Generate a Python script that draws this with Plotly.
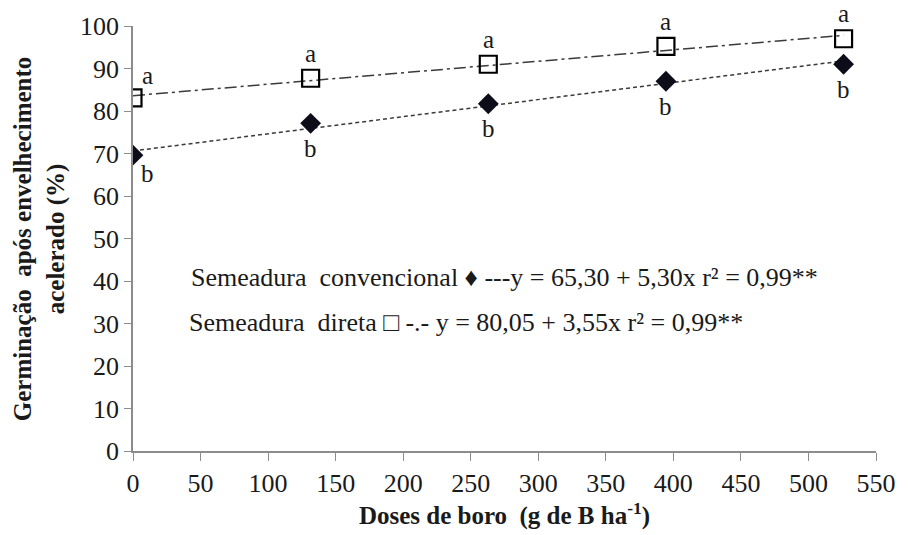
import plotly.graph_objects as go

doses = [0, 131.5, 263, 394.5, 526]
convencional = [69.6, 77.1, 81.7, 87.0, 91.0]
direta = [83.1, 87.7, 91.0, 95.2, 97.0]
letters_conv = ["b", "b", "b", "b", "b"]
letters_dir = ["a", "a", "a", "a", "a"]
# regression coefficients printed in the chart (x = dose level 1..5)
coef_conv = (65.30, 5.30)
coef_dir = (80.05, 3.55)
levels = [1, 2, 3, 4, 5]

x_ticks = list(range(0, 551, 50))
y_ticks = list(range(0, 101, 10))

FONT = "Liberation Serif"
INK = "#1a1a1a"

trend_conv = [coef_conv[0] + coef_conv[1] * k for k in levels]
trend_dir = [coef_dir[0] + coef_dir[1] * k for k in levels]

fig = go.Figure()
fig.add_trace(go.Scatter(x=doses, y=trend_dir, mode="lines",
                         line=dict(color="#3a3a3a", width=1.5, dash="12px,4px,3px,4px"),
                         showlegend=False, hoverinfo="skip"))
fig.add_trace(go.Scatter(x=doses, y=trend_conv, mode="lines",
                         line=dict(color="#3a3a3a", width=1.5, dash="4px,3px"),
                         showlegend=False, hoverinfo="skip"))
fig.add_trace(go.Scatter(x=doses, y=direta, mode="markers",
                         marker=dict(symbol="square-open", size=17, color="black",
                                     line=dict(width=2.2, color="black")),
                         showlegend=False))
fig.add_trace(go.Scatter(x=doses, y=convencional, mode="markers",
                         marker=dict(symbol="diamond", size=16, color="#0d0d1a"),
                         showlegend=False))

LF = dict(family=FONT, size=25, color=INK)
ann = []
for i, (x, y, t) in enumerate(zip(doses, direta, letters_dir)):
    if i == 0:
        ann.append(dict(x=x, y=y, text=t, xshift=14, yshift=22, showarrow=False, font=LF))
    else:
        ann.append(dict(x=x, y=y, text=t, xshift=0, yshift=25, showarrow=False, font=LF))
for i, (x, y, t) in enumerate(zip(doses, convencional, letters_conv)):
    if i == 0:
        ann.append(dict(x=x, y=y, text=t, xshift=14, yshift=-18, showarrow=False, font=LF))
    else:
        ann.append(dict(x=x, y=y, text=t, xshift=0, yshift=-25, showarrow=False, font=LF))

EQ = dict(family=FONT, size=26, color=INK)
ann.append(dict(xref="paper", yref="paper", x=(190 - 133) / 753, y=(452 - 278) / 427,
                xanchor="left", yanchor="middle", showarrow=False,
                text="Semeadura  convencional ♦ ---y = 65,30 + 5,30x r² = 0,99**", font=EQ))
ann.append(dict(xref="paper", yref="paper", x=(188 - 133) / 753, y=(452 - 323) / 427,
                xanchor="left", yanchor="middle", showarrow=False,
                text="Semeadura  direta □ -.- y = 80,05 + 3,55x r² = 0,99**", font=EQ))
# y-axis title (two lines, bold, rotated)
ann.append(dict(xref="paper", yref="paper", x=(39 - 133) / 753, y=(452 - 239) / 427,
                xanchor="center", yanchor="middle", showarrow=False, textangle=-90,
                text="<b>Germinação  após envelhecimento<br>acelerado (%)</b>",
                font=dict(family=FONT, size=25, color=INK)))

fig.update_layout(
    width=908, height=535,
    margin=dict(l=133, r=22, t=25, b=83),
    paper_bgcolor="white", plot_bgcolor="white",
    font=dict(family=FONT, size=26, color=INK),
    annotations=ann,
    xaxis=dict(range=[0, 550], tickvals=x_ticks, showgrid=False, zeroline=False,
               showline=True, linecolor="#8c8c8c", linewidth=1.5,
               ticks="outside", ticklen=8, tickcolor="#8c8c8c",
               tickfont=dict(family=FONT, size=26, color=INK),
               title=dict(text="<b>Doses de boro  (g de B ha<sup>-1</sup>)</b>",
                          font=dict(family=FONT, size=25, color=INK), standoff=8)),
    yaxis=dict(range=[0, 100], tickvals=y_ticks, showgrid=False, zeroline=False,
               showline=True, linecolor="#8c8c8c", linewidth=1.5,
               ticks="outside", ticklen=7, tickcolor="#8c8c8c",
               tickfont=dict(family=FONT, size=26, color=INK)),
)

fig.write_html("out.html")
